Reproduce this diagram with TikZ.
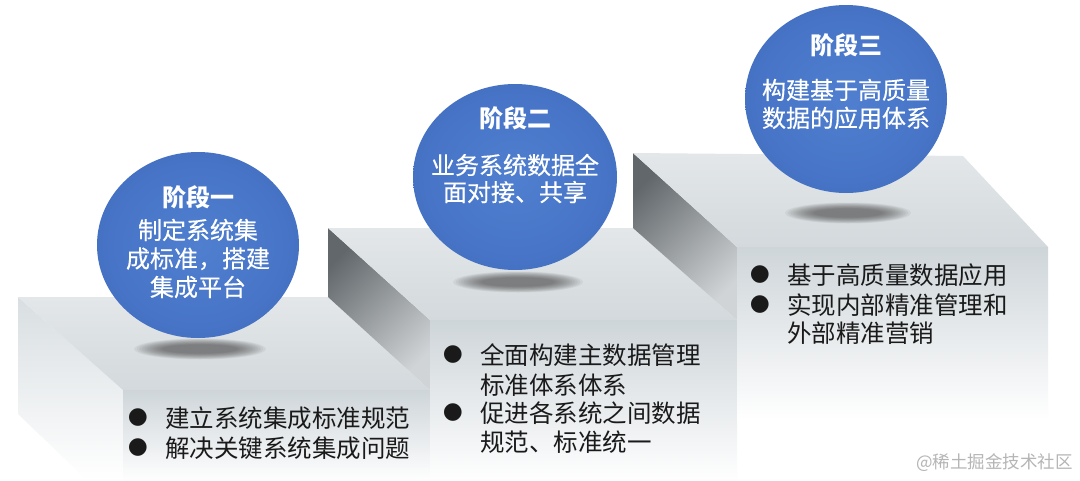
\documentclass[tikz,border=0pt]{standalone}
\usepackage{fontspec}
\setmainfont{Noto Sans CJK SC}
\newfontfamily\cjk{Noto Sans CJK SC}
\newfontfamily\cjkm[FakeBold=0.35]{Noto Sans CJK SC}
\newfontfamily\symfont{DejaVu Sans}
\definecolor{topA}{HTML}{E3E7E9}
\definecolor{topB}{HTML}{D3D9DC}
\definecolor{sideA}{HTML}{D8DEE1}
\definecolor{frontA}{HTML}{CED5D9}
\definecolor{riserA}{HTML}{62676B}
\definecolor{riserB}{HTML}{D0D4D6}
\definecolor{txt}{HTML}{1A1A1A}
\definecolor{wm}{HTML}{B5B5B5}
\definecolor{shd}{HTML}{3A3A3A}
\pgfdeclareradialshading{ballblue}{\pgfpointorigin}{color(0bp)=(rgb,255:red,80;green,127;blue,208); color(22bp)=(rgb,255:red,71;green,116;blue,198); color(32bp)=(rgb,255:red,65;green,107;blue,189); color(35.5bp)=(rgb,255:red,57;green,96;blue,174); color(50bp)=(rgb,255:red,57;green,96;blue,174)}
\begin{document}
\begin{tikzpicture}[x=1pt,y=-1pt,
  topface/.style={top color=topA, bottom color=topB},
  frontface/.style={top color=frontA, bottom color=white},
  riser/.style={top color=riserA, bottom color=riserB, shading angle=45},
  ball/.style={shading=ballblue},
  shadowlayer/.style={fill=shd, fill opacity=0.065},
  ttl/.style={inner sep=0pt, text=white, font=\cjk\bfseries\fontsize{24}{28}\selectfont},
  body/.style={inner sep=0pt, text=white, align=center, font=\cjkm\fontsize{24}{#1}\selectfont},
  item/.style={inner sep=0pt, anchor=west, text=txt, align=left, font=\cjk\fontsize{24.5}{#1}\selectfont},
  dot/.style={inner sep=0pt, text=txt, font=\symfont\fontsize{23}{23}\selectfont},
  wmark/.style={inner sep=0pt, anchor=east, text=wm, font=\cjk\fontsize{17.5}{20}\selectfont}]
\useasboundingbox (0,0) rectangle (1080,480);
\fill[white] (0,0) rectangle (1080,480);
% step 1
\shade[top color=sideA, bottom color=white] (18,297) -- (123,390) -- (123,480) -- (87,480) -- (18,414) -- cycle;
\shade[topface] (18,297) -- (328,297) -- (430,390) -- (123,390) -- cycle;
\shade[frontface] (123,390) rectangle (430,482);
% step 2
\shade[riser] (328,228) -- (430,320) -- (430,390) -- (328,297) -- cycle;
\shade[topface] (328,228) -- (633,228) -- (737,320) -- (430,320) -- cycle;
\shade[frontface] (430,320) rectangle (737,482);
% step 3
\shade[riser] (633,153) -- (737,247) -- (737,320) -- (633,228) -- cycle;
\shade[topface] (633,153) -- (963,156) -- (1048,247) -- (737,247) -- cycle;
\shade[frontface] (737,247) rectangle (1048,420);
% shadows (soft, layered)
\foreach \cx/\cy/\rx in {200/349/66, 518/282/65, 848/213/63} {
  \foreach \i in {0,...,11} {
    \fill[shadowlayer] (\cx,\cy) ellipse [x radius={\rx-\i*2.6}, y radius={10.5-\i*0.55}];
  }
}
% balls
\shade[ball] (198,245) ellipse [x radius=101, y radius=93];
\shade[ball] (515,177) ellipse [x radius=102, y radius=93];
\shade[ball] (846,99) ellipse [x radius=101, y radius=94];
% circle texts
\node[ttl] (t1) at (198,197) {阶段一};
\node[body=28.5] (b1) at (198,258.5) {制定系统集\\成标准，搭建\\集成平台};
\node[ttl] (t2) at (515,118) {阶段二};
\node[body=27] (b2) at (515,178.5) {业务系统数据全\\面对接、共享};
\node[ttl] (t3) at (846,45) {阶段三};
\node[body=28] (b3) at (846,104) {构建基于高质量\\数据的应用体系};
% step 1 items
\node[dot] (d11) at (138,418) {●};
\node[item=30] (i11) at (165,418) {建立系统集成标准规范};
\node[dot] (d12) at (138,448) {●};
\node[item=30] (i12) at (165,448) {解决关键系统集成问题};
% step 2 items
\node[dot] (d21) at (453,355) {●};
\node[item=30] (i21) at (480,370) {全面构建主数据管理\\标准体系体系};
\node[dot] (d22) at (453,413) {●};
\node[item=29] (i22) at (480,427.5) {促进各系统之间数据\\规范、标准统一};
% step 3 items
\node[dot] (d31) at (760,275) {●};
\node[item=30] (i31) at (787,275) {基于高质量数据应用};
\node[dot] (d32) at (760,305) {●};
\node[item=28] (i32) at (787,319) {实现内部精准管理和\\外部精准营销};
% watermark
\node[wmark] (wm) at (1073,463) {@稀土掘金技术社区};
\end{tikzpicture}
\end{document}
